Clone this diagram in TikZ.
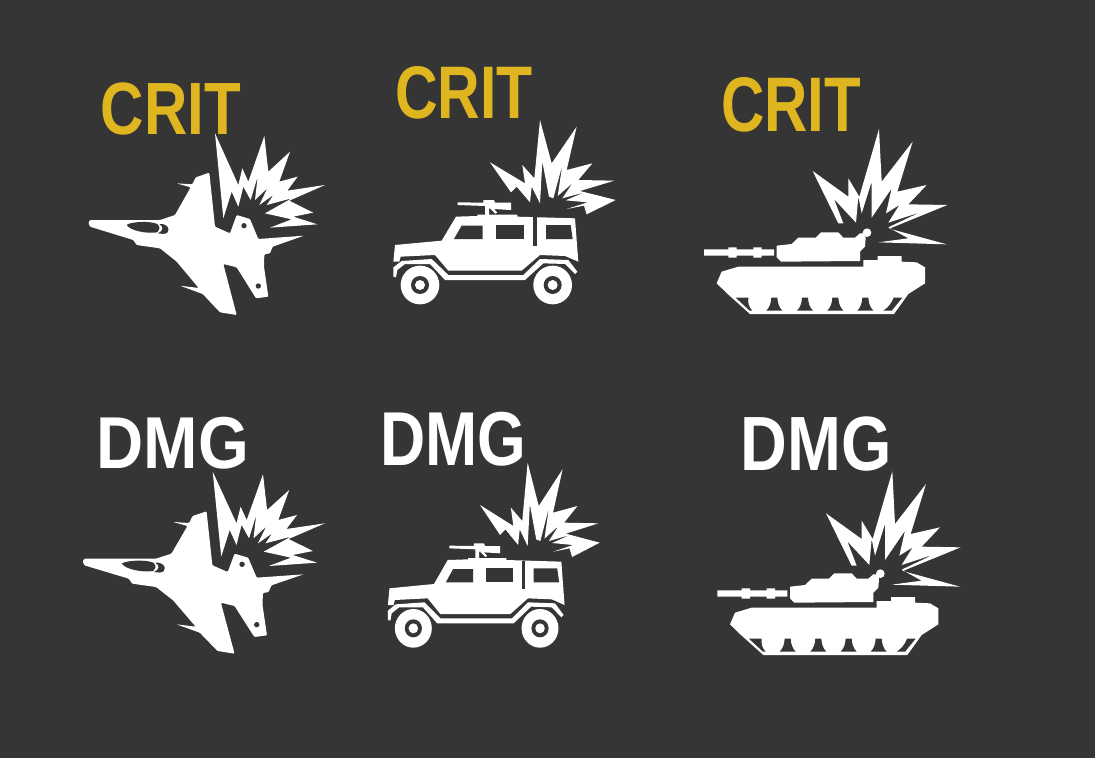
\documentclass[tikz,border=0pt]{standalone}
\usepackage{fontspec}
\usepackage{graphicx}
\setmainfont{Liberation Sans}
\definecolor{bgd}{HTML}{353535}
\definecolor{gold}{HTML}{E0B620}
\tikzset{
  ico/.style={fill=white,draw=none},
  cut/.style={fill=bgd,draw=none},
  lbl/.style={inner sep=0pt,outer sep=0pt,anchor=south west,font=\bfseries}
}
% #1,#2 crop origin px; #3 xscale; #4,#5 shift in zoom units; #6 content
\newcommand{\putico}[6]{\begin{scope}[shift={(#1pt,-#2pt)},x=0.33333pt,y=-0.33333pt,shift={(#4,#5)},xscale=#3]#6\end{scope}}
\newcommand{\jetshape}{%
  \fill[ico,rounded corners=1pt] (25,458)--(30,450)--(240,450)--(285,435)--(332,352)--(290,340)--(337,343)--(347,322)--(388,308)--(405,470)--(450,490)--(470,435)--(510,447)--(535,507)--(672,497)--(578,530)--(570,550)--(553,553)--(552,590)--(565,680)--(528,685)--(470,592)--(430,582)--(470,735)--(420,727)--(368,672)--(300,647)--(356,654)--(290,575)--(240,535)--(170,525)--(160,510)--(30,470)--cycle;
  \fill[cut] (140,465) .. controls (150,455) and (210,452) .. (232,462) .. controls (243,472) and (238,482) .. (232,487) .. controls (200,492) and (150,482) .. (140,465) -- cycle;
  \fill[cut] (238,462) .. controls (260,460) and (272,475) .. (262,488) .. controls (255,493) and (243,492) .. (234,490) .. controls (250,482) and (252,472) .. (238,462) -- cycle;
  \fill[cut] (492,467) circle (8);
  \fill[cut] (535,648) circle (8);
}
\newcommand{\jetburst}{%
  \fill[ico] (405,190)--(475,345)--(487,295)--(505,335)--(553,198)--(565,305)--(630,245)--(598,335)--(653,320)--(622,362)--(735,345)--(628,392)--(700,428)--(640,440)--(712,463)--(570,473)--(635,448)--(555,430)--(635,385)--(560,405)--(580,375)--(538,405)--(562,355)--(525,390)--(533,320)--(512,390)--(490,350)--(475,410)--(455,365)--(430,445)--cycle;
}
\newcommand{\carshape}{%
  \fill[ico] (40,605)--(45,555)--(185,542)--(228,470)--(292,468)--(292,464)--(412,464)--(412,470)--(585,475)--(595,605)--(555,588)--(480,585)--(425,632)--(205,632)--(165,585)--(62,590)--(58,605)--cycle;
  \fill[ico] (40,622)--(65,603)--(155,597)--(205,645)--(430,645)--(480,597)--(565,600)--(592,635)--(585,642)--(555,612)--(490,610)--(435,660)--(195,660)--(150,612)--(75,612)--(52,630)--(48,652)--(40,650)--cycle;
  \fill[cut] (222,537)--(245,497)--(308,497)--(308,537)--cycle;
  \fill[cut] (347,495)--(432,495)--(432,537)--(347,537)--cycle;
  \fill[cut] (498,495)--(572,495)--(578,537)--(498,537)--cycle;
  \fill[cut] (460,472)--(471,472)--(471,558)--(460,558)--cycle;
  \foreach \cx in {120,518} {
    \fill[ico] (\cx,675) circle (58);
    \fill[cut] (\cx,675) circle (27);
    \fill[ico] (\cx,675) circle (15);
  }
  \fill[ico] (233,427)--(310,428)--(310,420)--(342,420)--(345,428)--(393,428)--(393,450)--(342,447)--(352,458)--(346,461)--(330,445)--(327,445)--(327,466)--(315,466)--(315,438)--(233,435)--cycle;
}
\newcommand{\carburst}{%
  \fill[ico] (480,180)--(515,310)--(590,200)--(560,330)--(637,310)--(595,360)--(703,362)--(600,393)--(707,420)--(620,463)--(612,437)--(560,447)--(623,427)--(557,421)--(613,397)--(547,415)--(577,370)--(533,408)--(547,315)--(520,415)--(507,410)--(487,305)--(480,430)--(455,380)--(450,427)--(410,380)--(393,397)--(330,307)--(435,370)--(427,315)--(463,355)--cycle;
}
\newcommand{\tankshape}{%
  \fill[ico] (27,538)--(100,538)--(100,532)--(125,532)--(125,538)--(175,538)--(175,532)--(200,532)--(200,538)--(237,538)--(237,557)--(200,557)--(200,563)--(175,563)--(175,557)--(125,557)--(125,563)--(100,563)--(100,557)--(27,557)--cycle;
  \fill[ico] (245,527)--(290,522)--(310,503)--(362,503)--(378,487)--(430,487)--(445,503)--(480,503)--(495,490)--(510,490)--(512,505)--(510,530)--(495,545)--(495,573)--(258,575)--(245,562)--cycle;
  \fill[ico] (516,488) circle (13);
  \fill[ico] (65,640)--(80,605)--(130,590)--(505,590)--(505,570)--(548,570)--(548,558)--(620,558)--(620,575)--(665,577)--(690,592)--(690,640)--(640,672)--(597,732)--(165,732)--(98,672)--cycle;
  \fill[cut] (122,683)--(160,683) .. controls (158,700) and (162,712) .. (172,722)--(164,722)--cycle;
  \fill[cut] (596,683)--(622,683)--(590,722)--(565,722) .. controls (580,712) and (590,700) .. (596,683)--cycle;
  \foreach \cx in {238,330,421,511} {
    \fill[cut] (\cx-9,683)--(\cx+9,683) .. controls (\cx+10,700) and (\cx+14,712) .. (\cx+24,722)--(\cx-24,722) .. controls (\cx-14,712) and (\cx-10,700) .. (\cx-9,683)--cycle;
  }
}
\newcommand{\tankburst}{%
  \fill[ico] (552,177)--(560,335)--(653,215)--(607,365)--(695,345)--(640,403)--(757,405)--(583,476)--(755,523)--(550,517)--(640,505)--(580,472)--(675,427)--(580,458)--(613,405)--(573,430)--(590,355)--(530,443)--(530,335)--(500,430)--(490,380)--(483,458)--(417,387)--(445,460)--(430,460)--(353,303)--(460,380)--(460,325)--(493,380)--cycle;
}
\begin{document}
\begin{tikzpicture}[x=1pt,y=-1pt]
\useasboundingbox (0,0) rectangle (1095,758);
\fill[bgd] (0,0) rectangle (1095,758);
% top row
\putico{80}{70}{1}{0}{0}{\jetshape}
\putico{80}{70}{1}{0}{0}{\jetburst}
\putico{380}{60}{1}{0}{0}{\carshape}
\putico{380}{60}{1}{0}{0}{\carburst}
\putico{695}{70}{1}{0}{0}{\tankshape}
\putico{695}{70}{1}{0}{0}{\tankburst}
% bottom row
\putico{80}{405}{1.024}{-17.6}{11}{\jetshape}
\putico{80}{405}{1.02}{-15}{10}{\jetburst}
\putico{370}{400}{0.955}{15.4}{10}{\carshape}
\putico{370}{400}{0.952}{16}{8}{\carburst}
\putico{710}{405}{1}{-5}{18}{\tankshape}
\putico{710}{405}{1}{-5}{22}{\tankburst}
% labels
\node[lbl,text=gold] (crit1) at (100.7,135) {\resizebox{140pt}{51.7pt}{CRIT}};
\node[lbl,text=gold] (crit2) at (395,119.3) {\resizebox{137.7pt}{52pt}{CRIT}};
\node[lbl,text=gold] (crit3) at (721,132) {\resizebox{140pt}{54pt}{CRIT}};
\node[lbl,text=white] (dmg1) at (96.7,469.3) {\resizebox{152.3pt}{51.3pt}{DMG}};
\node[lbl,text=white] (dmg2) at (380,466) {\resizebox{146pt}{53.3pt}{DMG}};
\node[lbl,text=white] (dmg3) at (740.7,471.7) {\resizebox{151pt}{53.7pt}{DMG}};
\end{tikzpicture}
\end{document}
